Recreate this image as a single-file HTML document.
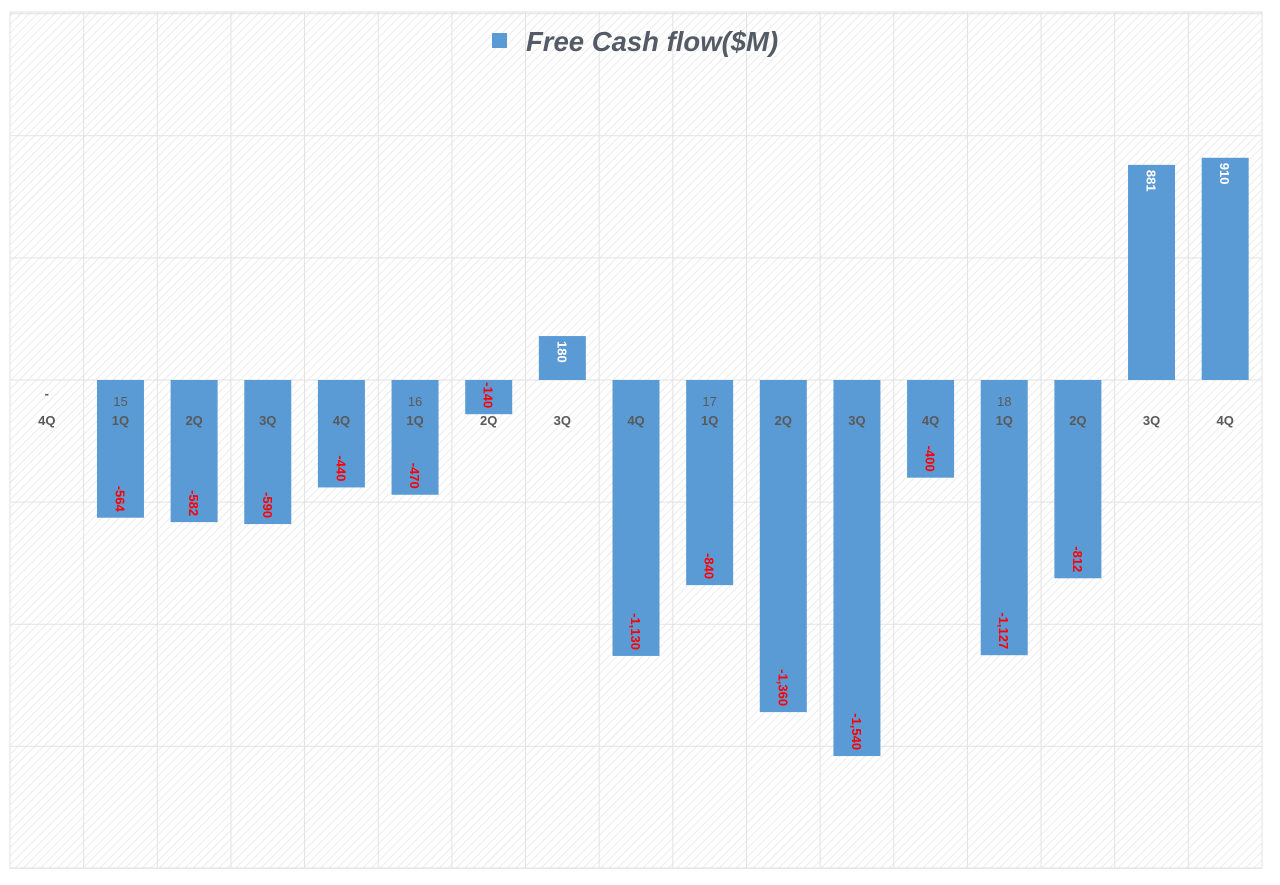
<!DOCTYPE html>
<html><head><style>
html,body{margin:0;padding:0;background:#fff;}
svg{display:block;font-family:"Liberation Sans",Calibri,sans-serif;}
</style></head><body>
<svg width="1280" height="885" xmlns="http://www.w3.org/2000/svg">
<defs>
<pattern id="h" width="6" height="6" patternUnits="userSpaceOnUse" patternTransform="rotate(45)">
<rect width="6" height="6" fill="#fff"/><line x1="0" y1="0" x2="0" y2="6" stroke="#e6e6e6" stroke-width="1.5"/>
</pattern>
</defs>
<rect x="0" y="0" width="1280" height="885" fill="#fff"/>
<rect x="10" y="12" width="1252" height="856" fill="url(#h)" stroke="#e0e0e0"/>
<g id="grid" stroke="#e2e2e2" stroke-width="1"></g>
<g id="bars"></g>
<rect x="492" y="33" width="15" height="15" fill="#5b9bd5"/>
<text x="526" y="51" font-size="27.5" font-weight="bold" font-style="italic" fill="#545b66">Free Cash flow($M)</text>
<script>
const ns="http://www.w3.org/2000/svg";
const g=document.getElementById('grid'),b=document.getElementById('bars');
function el(t,a,p,txt){const e=document.createElementNS(ns,t);for(const k in a)e.setAttribute(k,a[k]);if(txt!==undefined)e.textContent=txt;p.appendChild(e);return e;}
const W=1252/17;
for(let i=0;i<=17;i++){const x=10+W*i;el('line',{x1:x,y1:12,x2:x,y2:868},g);}
for(let v=1500;v>=-2000;v-=500){const y=380-v*0.2442;el('line',{x1:10,y1:y,x2:1262,y2:y},g);}
const vals=[0,-564,-582,-590,-440,-470,-140,180,-1130,-840,-1360,-1540,-400,-1127,-812,881,910];
const q=['4Q','1Q','2Q','3Q','4Q','1Q','2Q','3Q','4Q','1Q','2Q','3Q','4Q','1Q','2Q','3Q','4Q'];
const yr={1:'15',5:'16',9:'17',13:'18'};
vals.forEach((v,i)=>{
 const cx=10+W*(i+0.5);
 const h=Math.abs(v)*0.2442;
 if(v!==0) el('rect',{x:cx-23.5,y:v>0?380-h:380,width:47,height:h,fill:'#5b9bd5'},b);
 el('text',{x:cx,y:425,'font-size':13,'font-weight':'bold',fill:'#595959','text-anchor':'middle'},b,q[i]);
 if(yr[i]) el('text',{x:cx,y:406,'font-size':13,fill:'#595959','text-anchor':'middle'},b,yr[i]);
 const s=Math.abs(v).toLocaleString('en-US');
 if(v<0){const ye=380+h-6;
  el('text',{x:0,y:0,'font-size':13,'font-weight':'bold',fill:'#ff0000','text-anchor':'end',transform:`translate(${cx-5},${ye}) rotate(90)`},b,'-'+s);}
 else if(v>0){const ys=380-h+5;
  el('text',{x:0,y:0,'font-size':13,'font-weight':'bold',fill:'#ffffff','text-anchor':'start',transform:`translate(${cx-5},${ys}) rotate(90)`},b,s);}
 else el('text',{x:cx,y:398,'font-size':13,'font-weight':'bold',fill:'#595959','text-anchor':'middle'},b,'-');
});
</script>
</svg>
</body></html>
